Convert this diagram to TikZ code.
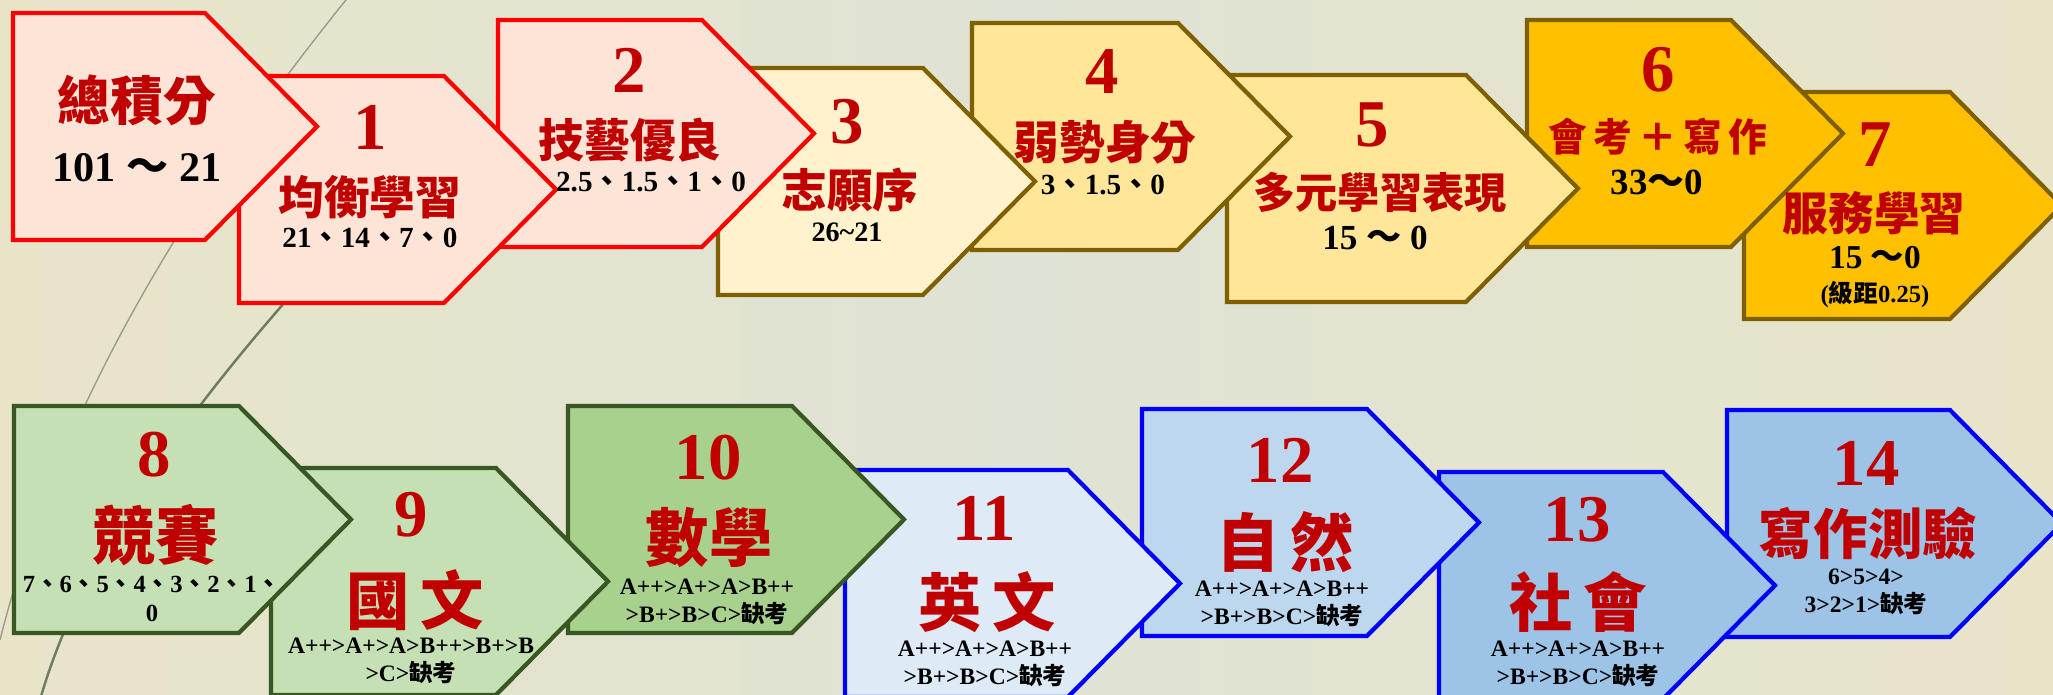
\documentclass[tikz,border=0pt]{standalone}
\usepackage{fontspec}
\setmainfont{Liberation Serif}
\newfontfamily\cjk{Noto Sans CJK TC}
\usetikzlibrary{positioning}

\definecolor{bgside}{HTML}{E8E4C8}
\definecolor{bgmid}{HTML}{DFE3D5}
\definecolor{peach}{HTML}{FCE4D6}
\definecolor{cream}{HTML}{FFF2CC}
\definecolor{sand}{HTML}{FFE699}
\definecolor{amber}{HTML}{FFC000}
\definecolor{olivedark}{HTML}{7F6000}
\definecolor{mint}{HTML}{C5E0B4}
\definecolor{leaf}{HTML}{A9D18E}
\definecolor{forest}{HTML}{385723}
\definecolor{ice}{HTML}{DEEBF7}
\definecolor{sky}{HTML}{BDD7EE}
\definecolor{steel}{HTML}{9DC3E6}
\definecolor{titlered}{HTML}{C00000}
\definecolor{arcgray}{HTML}{9C9C8C}
\definecolor{arcgreen}{HTML}{6E7D5E}

\newcommand{\dn}{{\cjk\bfseries 、}}
\newcommand{\wave}{{\cjk\bfseries ～}}
\newcommand{\qk}{{\cjk\bfseries 缺考}}

\tikzset{
  redbox/.style={draw=red, fill=peach, line width=1.2pt, line join=miter},
  creambox/.style={draw=olivedark, fill=cream, line width=1.2pt},
  sandbox/.style={draw=olivedark, fill=sand, line width=1.2pt},
  amberbox/.style={draw=olivedark, fill=amber, line width=1.2pt},
  mintbox/.style={draw=forest, fill=mint, line width=1.2pt},
  leafbox/.style={draw=forest, fill=leaf, line width=1.2pt},
  icebox/.style={draw=blue, fill=ice, line width=1.2pt},
  skybox/.style={draw=blue, fill=sky, line width=1.2pt},
  steelbox/.style={draw=blue, fill=steel, line width=1.2pt},
  num/.style={text=titlered, inner sep=0pt, font=\bfseries\fontsize{19}{19}\selectfont},
  ttl/.style={text=titlered, inner sep=0pt, font=\cjk\bfseries\fontsize{13}{13}\selectfont},
  bigttl/.style={ttl, font=\cjk\bfseries\fontsize{18}{18}\selectfont},
  val/.style={inner sep=0pt, font=\bfseries\fontsize{8.3}{10}\selectfont},
  sval/.style={inner sep=0pt, align=center, font=\bfseries\fontsize{6.7}{8}\selectfont}
}

\begin{document}
\begin{tikzpicture}[x=0.01cm, y=-0.01cm]
\useasboundingbox (0,0) rectangle (2053,695);
\clip (0,0) rectangle (2053,695);
\shade[left color=bgside, right color=bgside, middle color=bgmid] (0,0) rectangle (2053,695);

% background arcs
\draw[arcgray, line width=0.4pt] (350,-5) .. controls (200,180) and (60,400) .. (0,640);
\draw[arcgreen, line width=0.7pt] (300,285) .. controls (180,420) and (80,560) .. (40,700);

% upper row, back to front
\draw[amberbox] (1744,92) -- ++(206,0) -- ++(112,113.5) -- ++(-112,113.5) -- ++(-206,0) -- cycle;
\draw[amberbox] (1527,20) -- ++(204,0) -- ++(112,113.5) -- ++(-112,113.5) -- ++(-204,0) -- cycle;
\draw[sandbox] (1227,75) -- ++(239,0) -- ++(112,113.5) -- ++(-112,113.5) -- ++(-239,0) -- cycle;
\draw[sandbox] (972,23) -- ++(206,0) -- ++(112,113.5) -- ++(-112,113.5) -- ++(-206,0) -- cycle;
\draw[creambox] (718,68) -- ++(205,0) -- ++(112,113.5) -- ++(-112,113.5) -- ++(-205,0) -- cycle;
\draw[redbox] (498,20) -- ++(204,0) -- ++(112,113.5) -- ++(-112,113.5) -- ++(-204,0) -- cycle;
\draw[redbox] (239,76) -- ++(205,0) -- ++(112,113.5) -- ++(-112,113.5) -- ++(-205,0) -- cycle;
\draw[redbox] (13,13) -- ++(192,0) -- ++(112,113.5) -- ++(-112,113.5) -- ++(-192,0) -- cycle;

% lower row, back to front
\draw[steelbox] (1727,410) -- ++(223,0) -- ++(112,113.5) -- ++(-112,113.5) -- ++(-223,0) -- cycle;
\draw[steelbox] (1439,472) -- ++(224,0) -- ++(112,113.5) -- ++(-112,113.5) -- ++(-224,0) -- cycle;
\draw[skybox] (1142,409) -- ++(225,0) -- ++(112,113.5) -- ++(-112,113.5) -- ++(-225,0) -- cycle;
\draw[icebox] (845,470) -- ++(223,0) -- ++(112,113.5) -- ++(-112,113.5) -- ++(-223,0) -- cycle;
\draw[leafbox] (568,406) -- ++(224,0) -- ++(112,113.5) -- ++(-112,113.5) -- ++(-224,0) -- cycle;
\draw[mintbox] (271,468) -- ++(225,0) -- ++(112,113.5) -- ++(-112,113.5) -- ++(-225,0) -- cycle;
\draw[mintbox] (14,406) -- ++(225,0) -- ++(112,113.5) -- ++(-112,113.5) -- ++(-225,0) -- cycle;

% upper row texts
\node[ttl, font=\cjk\bfseries\fontsize{15}{15}\selectfont] (t0) at (137,100) {總積分};
\node[val, font=\bfseries\fontsize{12}{12}\selectfont] (v0) at (137,168) {101 \wave{} 21};

\node[num] (n1) at (370,127) {1};
\node[ttl] (t1) at (370,197) {均衡學習};
\node[val] (v1) at (370,238) {21\dn14\dn7\dn0};

\node[num] (n2) at (629,70) {2};
\node[ttl] (t2) at (630,140) {技藝優良};
\node[val] (v2) at (651,182) {2.5\dn1.5\dn1\dn0};

\node[num] (n3) at (847,122) {3};
\node[ttl] (t3) at (850,190) {志願序};
\node[val, font=\bfseries\fontsize{8}{10}\selectfont] (v3) at (847,232) {26\textasciitilde21};

\node[num] (n4) at (1102,72) {4};
\node[ttl] (t4) at (1105,142) {弱勢身分};
\node[val] (v4) at (1103,185) {3\dn1.5\dn0};

\node[num] (n5) at (1372,125) {5};
\node[ttl, font=\cjk\bfseries\fontsize{12}{12}\selectfont] (t5) at (1380,193) {多元學習表現};
\node[val, font=\bfseries\fontsize{10}{10}\selectfont] (v5) at (1375,238) {15 \wave{} 0};

\node[num] (n6) at (1658,70) {6};
\node[ttl, font=\cjk\bfseries\fontsize{11}{11}\selectfont] (t6) at (1658,137) {會\,考\,＋\,寫\,作};
\node[val, font=\bfseries\fontsize{10.5}{10.5}\selectfont] (v6) at (1657,182) {33\wave0};

\node[num] (n7) at (1875,145) {7};
\node[ttl] (t7) at (1874,213) {服務學習};
\node[val, font=\bfseries\fontsize{9.5}{9.5}\selectfont] (v7) at (1875,258) {15 \wave0};
\node[val, font=\bfseries\fontsize{7}{7}\selectfont] (w7) at (1875,295) {({\cjk\bfseries 級距}0.25)};

% lower row texts
\node[num] (n8) at (154,455) {8};
\node[bigttl] (t8) at (156,535) {競賽};
\node[sval, font=\bfseries\fontsize{7}{8}\selectfont] (v8) at (152,599) {7\dn6\dn5\dn4\dn3\dn2\dn1\dn\\0};

\node[num] (n9) at (411,515) {9};
\node[bigttl] (t9) at (415,600) {國\,文};
\node[sval] (v9) at (411,661) {A++>A+>A>B++>B+>B\\>C>\qk};

\node[num] (n10) at (708,458) {10};
\node[bigttl] (t10) at (709,538) {數學};
\node[sval] (v10) at (707,602) {A++>A+>A>B++\\>B+>B>C>\qk};

\node[num] (n11) at (984,518) {11};
\node[bigttl] (t11) at (987,602) {英\,文};
\node[sval] (v11) at (985,664) {A++>A+>A>B++\\>B+>B>C>\qk};

\node[num] (n12) at (1280,460) {12};
\node[bigttl] (t12) at (1285,542) {自\,然};
\node[sval] (v12) at (1282,604) {A++>A+>A>B++\\>B+>B>C>\qk};

\node[num] (n13) at (1577,520) {13};
\node[bigttl] (t13) at (1578,602) {社\,會};
\node[sval] (v13) at (1578,664) {A++>A+>A>B++\\>B+>B>C>\qk};

\node[num] (n14) at (1866,463) {14};
\node[bigttl, font=\cjk\bfseries\fontsize{15.5}{15.5}\selectfont] (t14) at (1868,533) {寫作測驗};
\node[sval] (v14) at (1866,592) {6>5>4>\\3>2>1>\qk};
\end{tikzpicture}
\end{document}
